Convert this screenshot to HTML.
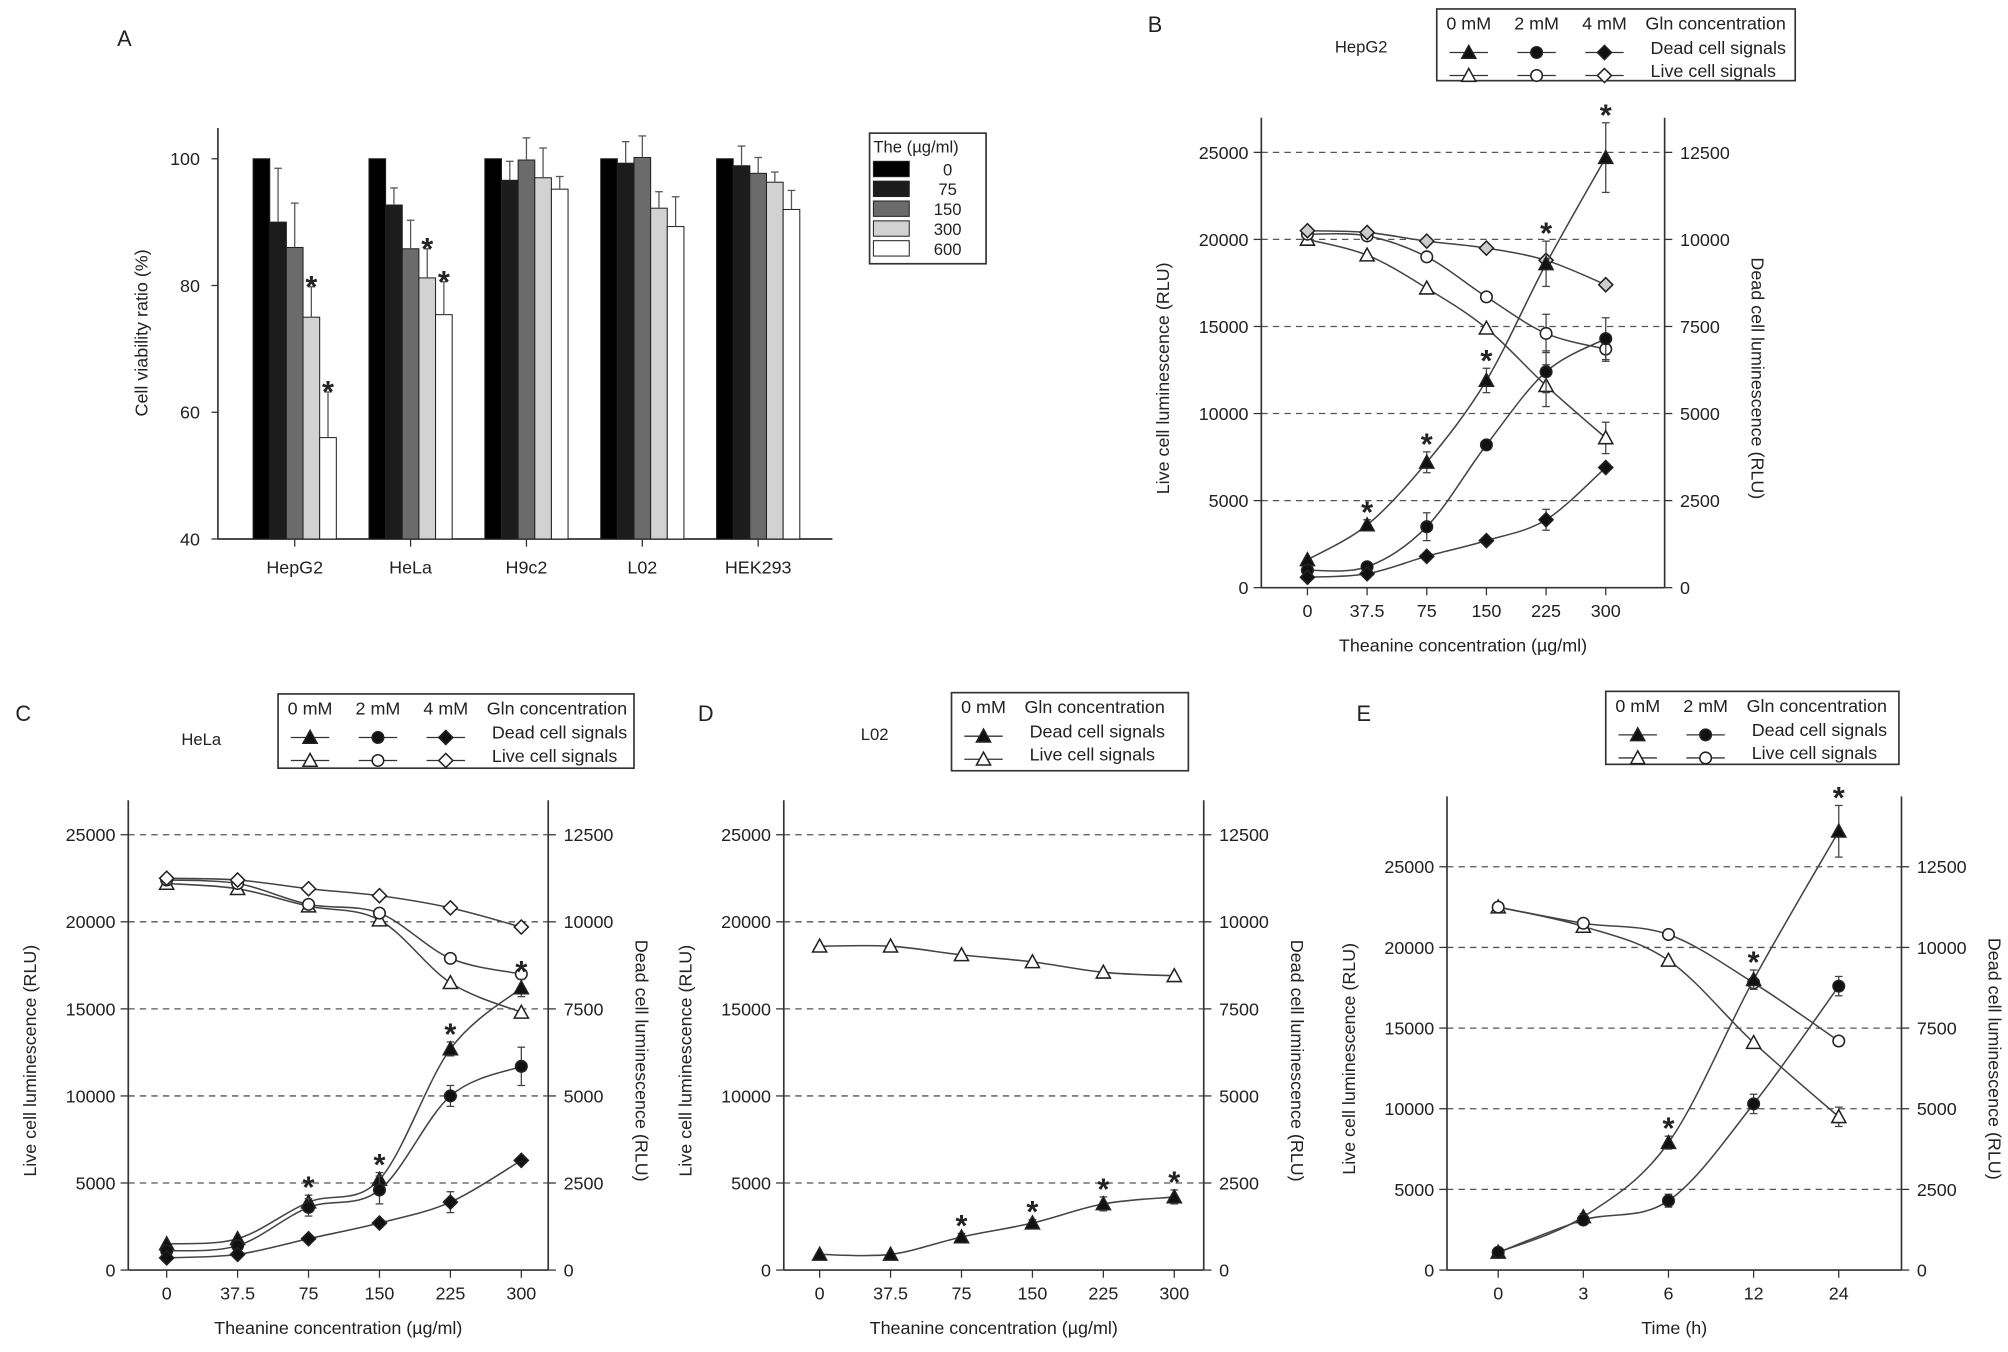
<!DOCTYPE html>
<html><head><meta charset="utf-8"><style>
html,body{margin:0;padding:0;background:#fff;}
svg{display:block;font-family:"Liberation Sans",sans-serif;}
</style></head><body>
<svg id="fig" width="2008" height="1352" viewBox="0 0 1568 1056" xmlns="http://www.w3.org/2000/svg"></svg>
<script>
// ===== Panel A data =====
const aCategories = ["HepG2","HeLa","H9c2","L02","HEK293"];
const aDoses = ["0","75","150","300","600"];
const aValues = [[100,90,86,75,56],[100,92.7,85.8,81.2,75.4],[100,96.6,99.8,97,95.2],[100,99.3,100.2,92.2,89.3],[100,98.9,97.7,96.3,92]];
const aErrors = [[0,8.5,7,4.8,7.2],[0,2.7,4.5,4.6,5.2],[0,3,3.5,4.7,2],[0,3.4,3.4,2.6,4.7],[0,3.1,2.5,1.6,3]];
const aStars = [[0,0,0,1,1],[0,0,0,1,1],[0,0,0,0,0],[0,0,0,0,0],[0,0,0,0,0]];
const aTicks = [40,60,80,100];
// ===== Panel B data =====
const bCats = ["0","37.5","75","150","225","300"];
const bLive0 = [20000,19100,17200,14900,11600,8600];
const bLive0Err = [0,0,0,0,1200,900];
const bLive2 = [20300,20200,19000,16700,14600,13700];
const bLive2Err = [0,0,0,0,1100,700];
const bLive4 = [20500,20400,19900,19500,18800,17400];
const bDead0 = [800,1800,3600,5950,9300,12350];
const bDead0Err = [0,150,300,350,650,1000];
const bDead2 = [500,600,1750,4100,6200,7150];
const bDead2Err = [0,0,400,0,600,600];
const bDead4 = [300,400,900,1350,1950,3450];
const bDead4Err = [0,0,0,0,300,0];
const bStars = [0,1,1,1,1,1];
// ===== Panel C data =====
const cCats = ["0","37.5","75","150","225","300"];
const cLive0 = [22200,21900,20900,20100,16500,14800];
const cLive2 = [22400,22200,21000,20500,17900,17000];
const cLive4 = [22500,22400,21900,21500,20800,19700];
const cDead0 = [750,900,1950,2600,6350,8100];
const cDead0Err = [0,0,200,200,200,250];
const cDead2 = [550,700,1800,2300,5000,5850];
const cDead2Err = [0,0,250,400,300,550];
const cDead4 = [350,450,900,1350,1950,3150];
const cDead4Err = [0,0,0,0,300,0];
const cStars = [0,0,1,1,1,1];
// ===== Panel D data =====
const dCats = ["0","37.5","75","150","225","300"];
const dLive0 = [18600,18600,18100,17700,17100,16900];
const dDead0 = [450,450,950,1350,1900,2100];
const dDead0Err = [0,0,100,100,200,200];
const dStars = [0,0,1,1,1,1];
// ===== Panel E data =====
const eCats = ["0","3","6","12","24"];
const eLive0 = [22500,21300,19200,14100,9500];
const eLive0Err = [0,0,0,0,600];
const eLive2 = [22500,21500,20800,17800,14200];
const eDead0 = [550,1650,3950,9000,13600];
const eDead0Err = [0,100,200,300,800];
const eDead2 = [550,1550,2150,5150,8800];
const eDead2Err = [0,100,200,300,300];
const eStars = [0,0,1,1,1];
const leftTicks = [0,5000,10000,15000,20000,25000];
const rightTicks = [0,2500,5000,7500,10000,12500];

const NS="http://www.w3.org/2000/svg";
const svg=document.getElementById('fig');
function el(tag,attrs,parent,text){const e=document.createElementNS(NS,tag);for(const k in attrs)e.setAttribute(k,attrs[k]);if(text!==undefined)e.textContent=text;(parent||svg).appendChild(e);return e;}
function txt(x,y,s,size,anchor,parent,rot){const a={x:x,y:y,'font-size':size,'text-anchor':anchor||'middle',fill:'#222'};if(rot)a.transform=`rotate(${rot} ${x} ${y})`;return el('text',a,parent,s);}
function star(x,y,parent){return el('text',{x:x,y:y,'font-size':24,'font-weight':'bold','text-anchor':'middle',fill:'#222'},parent,'*');}

// ---------- Panel A ----------
(function(){
  const g=el('g',{});
  
  
  const x0=170,x1=650,yTop=100;
  const y=v=>421-(v-40)*(421-124)/60;
  const cx=i=>230+i*90.5;
  txt(97,36,"A",17,'middle',g);
  el('line',{x1:x0,y1:yTop,x2:x0,y2:421,stroke:'#333','stroke-width':1.3},g);
  el('line',{x1:x0,y1:421,x2:x1,y2:421,stroke:'#333','stroke-width':1.3},g);
  aTicks.forEach(t=>{el('line',{x1:x0-5,y1:y(t),x2:x0,y2:y(t),stroke:'#333'},g);txt(x0-14,y(t)+5,String(t),14,'end',g);});
  const t=txt(115,260,"Cell viability ratio (%)",14,'middle',g,-90);
  
  const cols=['#000','#1c1c1c','#6b6b6b','#d2d2d2','#fff'];
  aCategories.forEach((c,i)=>{
    el('line',{x1:cx(i),y1:421,x2:cx(i),y2:427,stroke:'#333'},g);
    const l=txt(cx(i),448,c,14,'middle',g);
    
    aValues[i].forEach((v,j)=>{
      const bx=cx(i)-32.5+j*13;
      const r=el('rect',{x:bx,y:y(v),width:13,height:421-y(v),fill:cols[j],stroke:'#222','stroke-width':0.8},g);
      
      
      const e=aErrors[i][j];
      if(e>0){const ex=bx+6.5;el('line',{x1:ex,y1:y(v),x2:ex,y2:y(v+e),stroke:'#555'},g);el('line',{x1:ex-3,y1:y(v+e),x2:ex+3,y2:y(v+e),stroke:'#555'},g);}
      if(aStars[i][j]){star(bx+6.5,y(v+e)+8,g);}
    });
  });
  const lg=el('g',{},g);
  
  
  el('rect',{x:679,y:104,width:91,height:102,fill:'#fff',stroke:'#333','stroke-width':1.3},lg);
  txt(682,119,"The (\u00b5g/ml)",13,'start',lg);
  aDoses.forEach((d,j)=>{
    el('rect',{x:682,y:126+j*15.5,width:28,height:12,fill:cols[j],stroke:'#222','stroke-width':0.8},lg);
    txt(740,137+j*15.5,d,13,'middle',lg);
  });
})();

// ---------- line panels ----------
function smooth(pts){
  let d=`M${pts[0][0]},${pts[0][1]}`;
  for(let i=0;i<pts.length-1;i++){
    const p0=pts[Math.max(0,i-1)],p1=pts[i],p2=pts[i+1],p3=pts[Math.min(pts.length-1,i+2)];
    const c1=[p1[0]+(p2[0]-p0[0])/6,p1[1]+(p2[1]-p0[1])/6],c2=[p2[0]-(p3[0]-p1[0])/6,p2[1]-(p3[1]-p1[1])/6];
    d+=` C${c1[0]},${c1[1]} ${c2[0]},${c2[1]} ${p2[0]},${p2[1]}`;
  }
  return d;
}
function marker(g,shape,filled,x,y,fillc){
  const f=filled?'#111':(fillc||'#fff');
  if(shape==='tri') el('polygon',{points:`${x},${y-5.5} ${x-5.5},${y+4.5} ${x+5.5},${y+4.5}`,fill:f,stroke:'#222','stroke-width':1.2},g);
  else if(shape==='circ') el('circle',{cx:x,cy:y,r:4.5,fill:f,stroke:'#222','stroke-width':1.2},g);
  else el('polygon',{points:`${x},${y-5.5} ${x+5.5},${y} ${x},${y+5.5} ${x-5.5},${y}`,fill:f,stroke:'#222','stroke-width':1.2},g);
}
function panel(cfg){
  const g=el('g',{});
  
  
  const {xl,xr,y0,y25,top,xs,dx,cats}=cfg;
  const yL=v=>y0-v*(y0-y25)/25000;
  const yR=v=>y0-v*(y0-y25)/12500;
  const X=i=>xs+i*dx;
  txt(cfg.lx,cfg.ly,cfg.letter,17,'middle',g);
  txt(cfg.cx,cfg.cy,cfg.cell,13,'middle',g);
  leftTicks.forEach(t=>{
    if(t>0) el('line',{x1:xl,y1:yL(t),x2:xr,y2:yL(t),stroke:'#555','stroke-dasharray':'5,4','stroke-width':1},g);
    el('line',{x1:xl-6,y1:yL(t),x2:xl,y2:yL(t),stroke:'#333'},g);
    txt(xl-10,yL(t)+5,String(t),14,'end',g);
  });
  rightTicks.forEach(t=>{el('line',{x1:xr,y1:yR(t),x2:xr+6,y2:yR(t),stroke:'#333'},g);txt(xr+12,yR(t)+5,String(t),14,'start',g);});
  el('line',{x1:xl,y1:top,x2:xl,y2:y0,stroke:'#333','stroke-width':1.3},g);
  el('line',{x1:xr,y1:top,x2:xr,y2:y0,stroke:'#333','stroke-width':1.3},g);
  el('line',{x1:xl,y1:y0,x2:xr,y2:y0,stroke:'#333','stroke-width':1.3},g);
  cats.forEach((c,i)=>{el('line',{x1:X(i),y1:y0,x2:X(i),y2:y0+6,stroke:'#333'},g);const l=txt(X(i),y0+23,c,14,'middle',g);});
  const xt=txt((xl+xr)/2,y0+50,cfg.xtitle,14,'middle',g);
  const lt=txt(xl-72,(top+y0)/2+20,"Live cell luminescence (RLU)",14,'middle',g,-90);
  const rt=txt(xr+68,(top+y0)/2+20,"Dead cell luminescence (RLU)",14,'middle',g,90);
  cfg.series.forEach(s=>{
    const yf=s.dead?yR:yL;
    const pts=s.data.map((v,i)=>[X(i),yf(v)]);
    const p=el('path',{d:smooth(pts),fill:'none',stroke:'#444','stroke-width':1.2},g);
    
    
    if(s.err) s.err.forEach((e,i)=>{if(e>0){const x=X(i),a=yf(s.data[i]-e),b=yf(s.data[i]+e);
      el('line',{x1:x,y1:a,x2:x,y2:b,stroke:'#444'},g);el('line',{x1:x-3,y1:a,x2:x+3,y2:a,stroke:'#444'},g);el('line',{x1:x-3,y1:b,x2:x+3,y2:b,stroke:'#444'},g);}});
    pts.forEach(q=>marker(g,s.shape,s.dead,q[0],q[1],s.fillc));
    if(s.stars) s.stars.forEach((st,i)=>{if(st){const e=s.err?s.err[i]:0;star(X(i),yf(s.data[i]+e)+2,g);}});
  });
  // legend
  const lg=el('g',{},g);
  
  
  const L=cfg.leg;
  el('rect',{x:L.x,y:L.y,width:L.w,height:L.h,fill:'#fff',stroke:'#333','stroke-width':1.3},lg);
  const cw=53;
  L.shapes.forEach((sh,j)=>{
    const cx=L.x+25+j*cw;
    txt(cx,L.y+16,L.labels[j],14,'middle',lg);
    el('line',{x1:cx-15,y1:L.y+34,x2:cx+15,y2:L.y+34,stroke:'#333'},lg);marker(lg,sh,true,cx,L.y+34);
    el('line',{x1:cx-15,y1:L.y+52,x2:cx+15,y2:L.y+52,stroke:'#333'},lg);marker(lg,sh,false,cx,L.y+52);
  });
  const tx=L.x+4+L.shapes.length*cw;
  txt(tx,L.y+16,"Gln concentration",14,'start',lg);
  txt(tx+4,L.y+35,"Dead cell signals",14,'start',lg);
  txt(tx+4,L.y+53,"Live cell signals",14,'start',lg);
}
panel({name:'panel-b',letter:'B',lx:902,ly:25,cell:'HepG2',cx:1063,cy:41,xl:985,xr:1300,y0:459,y25:119,top:92,xs:1021,dx:46.6,cats:bCats,xtitle:'Theanine concentration (\u00b5g/ml)',
  leg:{x:1122,y:7,w:280,h:56,shapes:['tri','circ','diam'],labels:['0 mM','2 mM','4 mM']},
  series:[{name:'live-0mM',data:bLive0,err:bLive0Err,shape:'tri'},{name:'live-2mM',data:bLive2,err:bLive2Err,shape:'circ'},{name:'live-4mM',data:bLive4,shape:'diam',fillc:'#ccc'},
    {name:'dead-0mM',data:bDead0,err:bDead0Err,shape:'tri',dead:1,stars:bStars},{name:'dead-2mM',data:bDead2,err:bDead2Err,shape:'circ',dead:1},{name:'dead-4mM',data:bDead4,err:bDead4Err,shape:'diam',dead:1}]});
panel({name:'panel-c',letter:'C',lx:18,ly:563,cell:'HeLa',cx:157,cy:582,xl:100,xr:428,y0:992,y25:652,top:625,xs:130,dx:55.4,cats:cCats,xtitle:'Theanine concentration (\u00b5g/ml)',
  leg:{x:217,y:542,w:278,h:58,shapes:['tri','circ','diam'],labels:['0 mM','2 mM','4 mM']},
  series:[{name:'live-0mM',data:cLive0,shape:'tri'},{name:'live-2mM',data:cLive2,shape:'circ'},{name:'live-4mM',data:cLive4,shape:'diam'},
    {name:'dead-0mM',data:cDead0,err:cDead0Err,shape:'tri',dead:1,stars:cStars},{name:'dead-2mM',data:cDead2,err:cDead2Err,shape:'circ',dead:1},{name:'dead-4mM',data:cDead4,err:cDead4Err,shape:'diam',dead:1}]});
panel({name:'panel-d',letter:'D',lx:551,ly:563,cell:'L02',cx:683,cy:578,xl:612,xr:940,y0:992,y25:652,top:625,xs:640,dx:55.4,cats:dCats,xtitle:'Theanine concentration (\u00b5g/ml)',
  leg:{x:743,y:541,w:185,h:61,shapes:['tri'],labels:['0 mM']},
  series:[{name:'live-0mM',data:dLive0,shape:'tri'},{name:'dead-0mM',data:dDead0,err:dDead0Err,shape:'tri',dead:1,stars:dStars}]});
panel({name:'panel-e',letter:'E',lx:1065,ly:563,cell:'HepG2',cx:1288,cy:575,xl:1130,xr:1485,y0:992,y25:677,top:622,xs:1170,dx:66.5,cats:eCats,xtitle:'Time (h)',
  leg:{x:1254,y:540,w:229,h:57,shapes:['tri','circ'],labels:['0 mM','2 mM']},
  series:[{name:'live-0mM',data:eLive0,err:eLive0Err,shape:'tri'},{name:'live-2mM',data:eLive2,shape:'circ'},
    {name:'dead-0mM',data:eDead0,err:eDead0Err,shape:'tri',dead:1,stars:eStars},{name:'dead-2mM',data:eDead2,err:eDead2Err,shape:'circ',dead:1}]});
</script>
</body></html>
